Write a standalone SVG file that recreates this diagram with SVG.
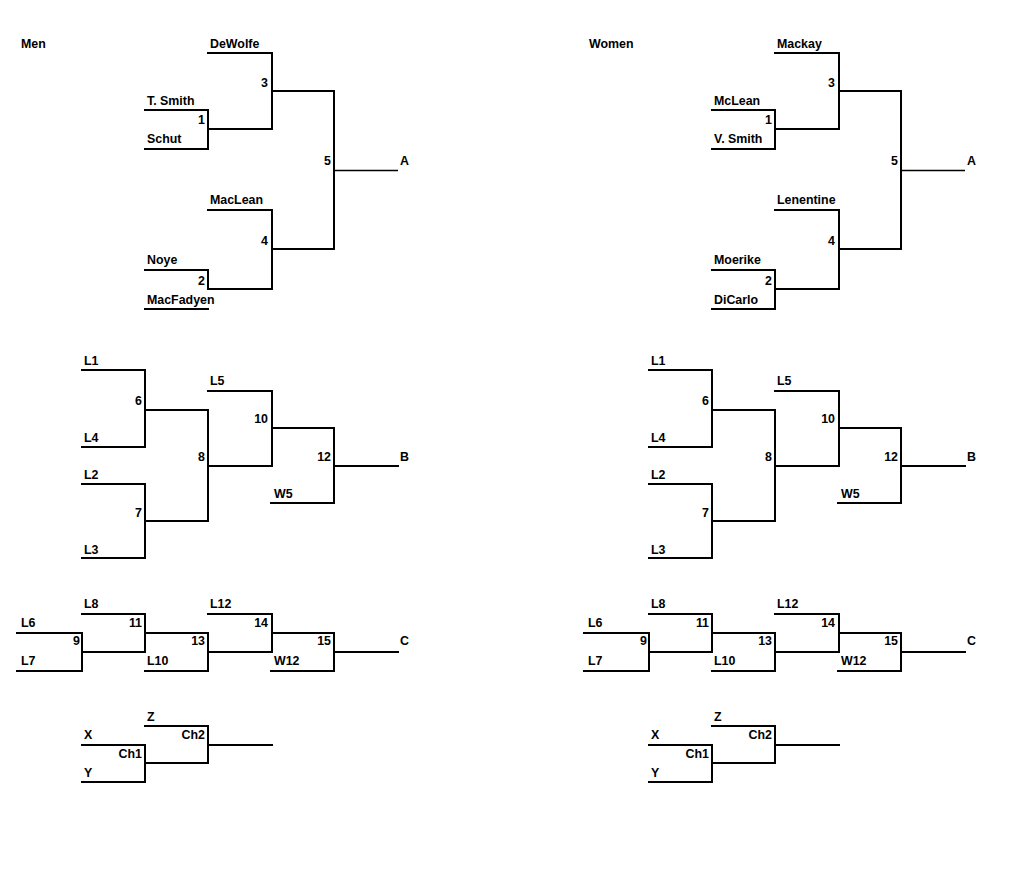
<svg xmlns="http://www.w3.org/2000/svg" width="1024" height="889" viewBox="0 0 1024 889">
<style>
text{font-family:"Liberation Sans",Arial,sans-serif;font-size:12.4px;font-weight:bold;fill:#000}
.n{text-anchor:end}
.c path{fill:none;stroke:#000;stroke-width:2;stroke-linejoin:miter;stroke-linecap:square}
.c path.t{stroke-width:1.3;stroke-linecap:butt}
</style>
<rect width="1024" height="889" fill="#fff"/>
<defs>
<g id="lower">
<g class="c">
<path d="M82,370H145V447H82M145,410H208M82,484H145V558H82M145,521H208M208,410V521M208,466H272M208,391H272V466M272,428H334M271,503H334V428M334,466H398"/>
<path d="M82,614H145V652M17,633H82V671H17M82,652H145M145,633H208V671H145M208,652H272M208,614H272V652M272,633H334V671H271M334,652H398"/>
<path d="M145,726H208V763M82,745H145V782H82M145,763H208M208,745H272"/>
</g>
<g id="lbl-mid">
<text x="84" y="365">L1</text><text x="84" y="442">L4</text><text x="84" y="479">L2</text><text x="84" y="554">L3</text>
<text class="n" x="142" y="405">6</text><text class="n" x="142" y="517">7</text><text class="n" x="205" y="461">8</text>
<text x="210" y="385">L5</text><text class="n" x="268" y="423">10</text><text x="274" y="498">W5</text>
<text class="n" x="331" y="461">12</text><text x="400" y="461">B</text>
</g>
<g id="lbl-low">
<text x="84" y="608">L8</text><text x="21" y="627">L6</text><text x="21" y="665">L7</text>
<text class="n" x="80" y="645">9</text><text class="n" x="142" y="627">11</text><text class="n" x="205" y="645">13</text>
<text x="147" y="665">L10</text><text x="210" y="608">L12</text><text class="n" x="268" y="627">14</text>
<text x="274" y="665">W12</text><text class="n" x="331" y="645">15</text><text x="400" y="645">C</text>
</g>
<g id="lbl-ch">
<text x="147" y="721">Z</text><text x="84" y="739">X</text><text class="n" x="205" y="739">Ch2</text>
<text class="n" x="142" y="758">Ch1</text><text x="84" y="777">Y</text>
</g>
</g>
</defs>

<g id="men">
<g id="men-connectors" class="c">
<path d="M208,53H272V129M208,129H272M145,110H208V149H145M272,91H334M208,210H272V289M208,289H272M145,270H208V289M145,309H208M272,249H334M334,91V249"/>
<path class="t" d="M334,170.5H398"/>
</g>
<g id="men-title"><text x="21" y="48">Men</text></g>
<g id="men-dewolfe"><text x="210" y="48">DeWolfe</text></g>
<g id="men-tsmith"><text x="147" y="104.5">T. Smith</text></g>
<g id="men-schut"><text x="147" y="143">Schut</text></g>
<g id="men-maclean"><text x="210" y="203.5">MacLean</text></g>
<g id="men-noye"><text x="147" y="263.5">Noye</text></g>
<g id="men-macfadyen"><text x="147" y="304">MacFadyen</text></g>
<g id="men-matches">
<text class="n" x="205" y="124">1</text><text class="n" x="268" y="86.5">3</text>
<text class="n" x="268" y="245">4</text><text class="n" x="205" y="285">2</text>
<text class="n" x="331" y="165">5</text><text x="400" y="165">A</text>
</g>
<g id="men-lower"><use href="#lower"/></g>
</g>

<g id="women" transform="translate(567,0)">
<g id="women-connectors" class="c">
<path d="M208,53H272V129M208,129H272M145,110H208V149H145M272,91H334M208,210H272V289M208,289H272M145,270H208V309H145M272,249H334M334,91V249"/>
<path class="t" d="M334,170.5H398"/>
</g>
<g id="women-title"><text x="22" y="48">Women</text></g>
<g id="women-mackay"><text x="210" y="48">Mackay</text></g>
<g id="women-mclean"><text x="147" y="104.5">McLean</text></g>
<g id="women-vsmith"><text x="147" y="143">V. Smith</text></g>
<g id="women-lenentine"><text x="210" y="203.5">Lenentine</text></g>
<g id="women-moerike"><text x="147" y="263.5">Moerike</text></g>
<g id="women-dicarlo"><text x="147" y="304">DiCarlo</text></g>
<g id="women-matches">
<text class="n" x="205" y="124">1</text><text class="n" x="268" y="86.5">3</text>
<text class="n" x="268" y="245">4</text><text class="n" x="205" y="285">2</text>
<text class="n" x="331" y="165">5</text><text x="400" y="165">A</text>
</g>
<g id="women-lower"><use href="#lower"/></g>
</g>
</svg>
